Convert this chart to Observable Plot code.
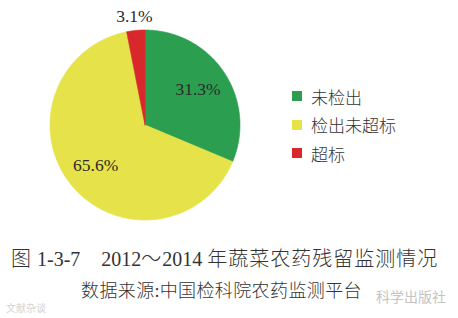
<!DOCTYPE html>
<html>
<head>
<meta charset="utf-8">
<script src="https://cdn.jsdelivr.net/npm/d3@7"></script>
<script src="https://cdn.jsdelivr.net/npm/@observablehq/plot@0.6"></script>
<style>
  html, body { margin: 0; padding: 0; background: #fff; }
  #wrap { position: relative; width: 458px; height: 318px; overflow: hidden; background: #fff; }
  #legend { position: absolute; left: 292px; top: 82px; font-family: "Noto Sans CJK SC", sans-serif; font-size: 17px; color: #333; font-weight: 300; }
  #legend .row { display: flex; align-items: center; height: 28.5px; }
  #legend .sw { width: 10px; height: 10px; margin-right: 9px; }
  #caption { position: absolute; left: 11px; top: 245px; font-family: "Liberation Serif", "Noto Sans CJK SC", serif; font-size: 20px; line-height: 26px; color: #333; white-space: nowrap; font-weight: 300; }
  #source { position: absolute; left: 81px; top: 278px; font-family: "Liberation Serif", "Noto Sans CJK SC", serif; font-size: 18px; line-height: 22px; color: #333; white-space: nowrap; font-weight: 300; }
  .cjk { font-family: "Noto Sans CJK SC", sans-serif; letter-spacing: 1px; }
  #source .cjk { letter-spacing: 0.4px; }
  #wm1 { position: absolute; left: 376px; top: 286px; font-family: "Noto Sans CJK SC", sans-serif; font-size: 14px; color: #c4c4c4; white-space: nowrap; }
  #wm2 { position: absolute; left: 6px; top: 300px; font-family: "Noto Sans CJK SC", sans-serif; font-size: 10px; color: #d4d4d4; white-space: nowrap; }
</style>
</head>
<body>
<div id="wrap">
  <div id="chart"></div>
  <div id="legend"></div>
  <div id="caption"></div>
  <div id="source"></div>
  <div id="wm1"></div>
  <div id="wm2"></div>
</div>
<script>
const categories = ["未检出", "检出未超标", "超标"];
const values = [31.3, 65.6, 3.1];
const labels = ["31.3%", "65.6%", "3.1%"];
const colors = ["#2c9e50", "#e6e24a", "#d8282b"];
const captionText = "图 1-3-7\u30002012～2014 年蔬菜农药残留监测情况";
const sourceText = "数据来源:中国检科院农药监测平台";

const total = d3.sum(values);
const pie = d3.pie().sort(null).value(d => d.value);
const arcs = pie(categories.map((c, i) => ({cat: c, value: values[i], label: labels[i]})));

// wedge outlines in unit coordinates (angle 0 at top, clockwise)
const wedges = [];
for (const a of arcs) {
  wedges.push({cat: a.data.cat, x: 0, y: 0});
  const n = Math.max(2, Math.ceil((a.endAngle - a.startAngle) / (Math.PI / 180)));
  for (let k = 0; k <= n; k++) {
    const t = a.startAngle + (a.endAngle - a.startAngle) * k / n;
    wedges.push({cat: a.data.cat, x: Math.sin(t), y: Math.cos(t)});
  }
  wedges.push({cat: a.data.cat, x: 0, y: 0});
}
const textPts = arcs.map(a => {
  const mid = (a.startAngle + a.endAngle) / 2;
  const small = a.data.value / total < 0.1;
  const r = small ? 1.15 : 0.67;
  return {label: a.data.label, x: r * Math.sin(mid), y: r * Math.cos(mid)};
});

const chart = Plot.plot({
  width: 458,
  height: 232,
  margin: 0,
  x: {domain: [-1, 1], range: [49.5, 239.5], axis: null},
  y: {domain: [-1, 1], range: [219.5, 29.5], axis: null},
  color: {domain: categories, range: colors},
  style: {background: "#fff"},
  marks: [
    Plot.line(wedges, {x: "x", y: "y", z: "cat", fill: "cat", stroke: "cat", strokeWidth: 0.6, curve: "linear-closed"}),
    Plot.text(textPts, {x: "x", y: "y", text: "label", fontSize: 17.5, fill: "#2a2a2a", fontFamily: "Liberation Serif, serif"})
  ]
});
document.getElementById("chart").appendChild(chart);

const legend = document.getElementById("legend");
categories.forEach((c, i) => {
  const row = document.createElement("div");
  row.className = "row";
  const sw = document.createElement("div");
  sw.className = "sw";
  sw.style.background = colors[i];
  const t = document.createElement("span");
  t.textContent = c;
  row.appendChild(sw);
  row.appendChild(t);
  legend.appendChild(row);
});

function fillMixed(el, text) {
  const re = /[\u3000-\u303f\u4e00-\u9fff\uff00-\uffef]+/g;
  let last = 0, m;
  while ((m = re.exec(text))) {
    if (m.index > last) el.appendChild(document.createTextNode(text.slice(last, m.index)));
    const s = document.createElement("span");
    s.className = "cjk";
    s.textContent = m[0];
    el.appendChild(s);
    last = m.index + m[0].length;
  }
  if (last < text.length) el.appendChild(document.createTextNode(text.slice(last)));
}
fillMixed(document.getElementById("caption"), captionText);
fillMixed(document.getElementById("source"), sourceText);
document.getElementById("wm1").textContent = "科学出版社";
document.getElementById("wm2").textContent = "文献杂谈";
</script>
</body>
</html>
